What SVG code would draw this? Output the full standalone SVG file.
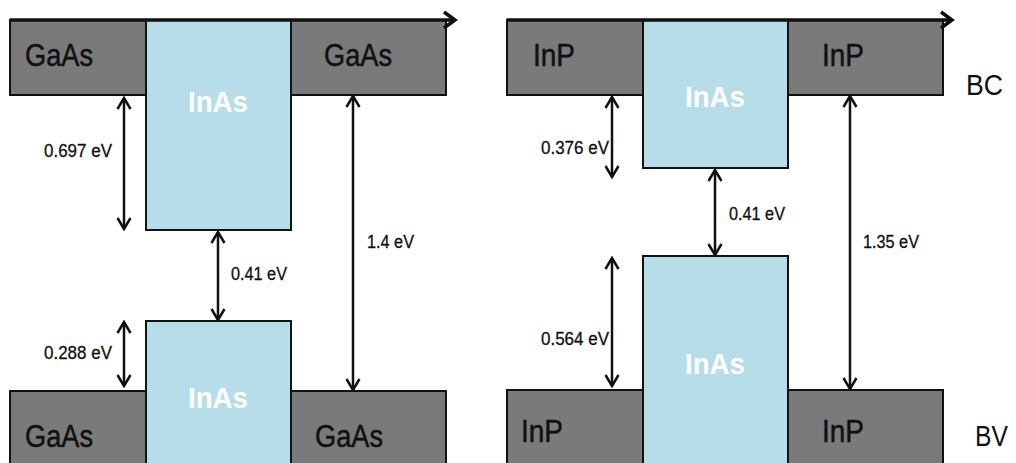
<svg xmlns="http://www.w3.org/2000/svg" width="1016" height="463" viewBox="0 0 1016 463">
<defs>
<style>
.gray{fill:#7a7a7a;stroke:#111;stroke-width:2}
.blue{fill:#b7dde8;stroke:#111;stroke-width:2}
.mat{font-family:"Liberation Sans",Arial,sans-serif;font-size:31px;fill:#111;stroke:#111;stroke-width:0.5}
.inas{font-family:"Liberation Sans",Arial,sans-serif;font-size:30px;font-weight:bold;fill:#fff;text-anchor:middle}
.lbl{font-family:"Liberation Sans",Arial,sans-serif;font-size:18px;fill:#111;stroke:#111;stroke-width:0.3}
.band{font-family:"Liberation Sans",Arial,sans-serif;font-size:30px;fill:#111}
.arr{stroke:#111;stroke-width:2.5;fill:none;marker-start:url(#ch);marker-end:url(#ch)}
.axis{stroke:#111;stroke-width:3.5;fill:none;marker-end:url(#ax)}
</style>
<marker id="ch" markerUnits="userSpaceOnUse" markerWidth="16" markerHeight="16" viewBox="0 0 16 16" refX="14" refY="8" orient="auto-start-reverse">
<path d="M3,1.5 L14,8 L3,14.5" fill="none" stroke="#111" stroke-width="2.5"/>
</marker>
<marker id="ax" markerUnits="userSpaceOnUse" markerWidth="20" markerHeight="20" viewBox="0 0 20 20" refX="17" refY="10" orient="auto">
<path d="M6,2 L17,10 L6,18" fill="none" stroke="#111" stroke-width="3.5"/>
</marker>
</defs>

<!-- Left panel: GaAs / InAs -->
<g id="gaas-bc-left"><rect class="gray" x="10" y="20" width="136" height="75"/><text class="mat" x="25" y="66" textLength="68" lengthAdjust="spacingAndGlyphs">GaAs</text></g>
<g id="gaas-bc-right"><rect class="gray" x="291" y="20" width="155" height="75"/><text class="mat" x="324" y="66" textLength="68" lengthAdjust="spacingAndGlyphs">GaAs</text></g>
<g id="inas-bc-left"><rect class="blue" x="146" y="20" width="145" height="210"/><text class="inas" x="218" y="112" textLength="60" lengthAdjust="spacingAndGlyphs">InAs</text></g>
<g id="gaas-bv-left"><rect class="gray" x="10" y="391" width="136" height="80"/><text class="mat" x="25" y="447" textLength="68" lengthAdjust="spacingAndGlyphs">GaAs</text></g>
<g id="gaas-bv-right"><rect class="gray" x="291" y="391" width="155" height="80"/><text class="mat" x="315" y="447" textLength="68" lengthAdjust="spacingAndGlyphs">GaAs</text></g>
<g id="inas-bv-left"><rect class="blue" x="146" y="321" width="145" height="150"/><text class="inas" x="218" y="408" textLength="60" lengthAdjust="spacingAndGlyphs">InAs</text></g>

<!-- Right panel: InP / InAs -->
<g id="inp-bc-left"><rect class="gray" x="507" y="20" width="136" height="75"/><text class="mat" x="533" y="66" textLength="42" lengthAdjust="spacingAndGlyphs">InP</text></g>
<g id="inp-bc-right"><rect class="gray" x="788" y="20" width="155" height="75"/><text class="mat" x="822" y="66" textLength="42" lengthAdjust="spacingAndGlyphs">InP</text></g>
<g id="inas-bc-right"><rect class="blue" x="643" y="20" width="145" height="148"/><text class="inas" x="715" y="107" textLength="60" lengthAdjust="spacingAndGlyphs">InAs</text></g>
<g id="inp-bv-left"><rect class="gray" x="507" y="390" width="136" height="81"/><text class="mat" x="521" y="442" textLength="42" lengthAdjust="spacingAndGlyphs">InP</text></g>
<g id="inp-bv-right"><rect class="gray" x="788" y="390" width="155" height="81"/><text class="mat" x="822" y="442" textLength="42" lengthAdjust="spacingAndGlyphs">InP</text></g>
<g id="inas-bv-right"><rect class="blue" x="643" y="256" width="145" height="215"/><text class="inas" x="715" y="374" textLength="60" lengthAdjust="spacingAndGlyphs">InAs</text></g>

<g id="band-labels">
<text class="band" x="966" y="95" textLength="37" lengthAdjust="spacingAndGlyphs">BC</text>
<text class="band" x="975" y="446" textLength="33" lengthAdjust="spacingAndGlyphs">BV</text>
</g>

<g id="connectors">
<line class="axis" x1="10" y1="20" x2="455" y2="20"/>
<line class="axis" x1="507" y1="20" x2="952" y2="20"/>
<line class="arr" x1="124" y1="98" x2="124" y2="229"/>
<line class="arr" x1="218" y1="232" x2="218" y2="320"/>
<line class="arr" x1="124" y1="322" x2="124" y2="386"/>
<line class="arr" x1="353" y1="96" x2="353" y2="390"/>
<line class="arr" x1="612" y1="97" x2="612" y2="177"/>
<line class="arr" x1="715" y1="170" x2="715" y2="255"/>
<line class="arr" x1="612" y1="258" x2="612" y2="386"/>
<line class="arr" x1="850" y1="96" x2="850" y2="389"/>
</g>

<g id="energy-labels">
<text class="lbl" x="44" y="157" textLength="68" lengthAdjust="spacingAndGlyphs">0.697 eV</text>
<text class="lbl" x="231" y="280" textLength="56" lengthAdjust="spacingAndGlyphs">0.41 eV</text>
<text class="lbl" x="44" y="359" textLength="68" lengthAdjust="spacingAndGlyphs">0.288 eV</text>
<text class="lbl" x="367" y="248" textLength="47" lengthAdjust="spacingAndGlyphs">1.4 eV</text>
<text class="lbl" x="541" y="154" textLength="68" lengthAdjust="spacingAndGlyphs">0.376 eV</text>
<text class="lbl" x="729" y="220" textLength="56" lengthAdjust="spacingAndGlyphs">0.41 eV</text>
<text class="lbl" x="541" y="345" textLength="68" lengthAdjust="spacingAndGlyphs">0.564 eV</text>
<text class="lbl" x="863" y="248" textLength="56" lengthAdjust="spacingAndGlyphs">1.35 eV</text>
</g>
</svg>
